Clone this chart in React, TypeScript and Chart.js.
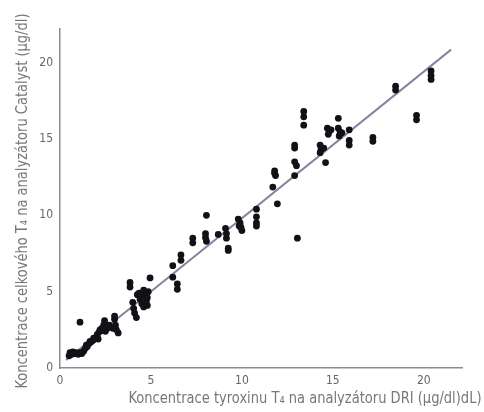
import React, { useEffect, useRef } from "react";
import { Chart, registerables } from "chart.js";

Chart.register(...registerables);

const X_TITLE = "Koncentrace tyroxinu T₄ na analyzátoru DRI (µg/dl)dL)";
const Y_TITLE = "Koncentrace celkového T₄ na analyzátoru Catalyst (µg/dl)";

const X_TICKS = [0, 5, 10, 15, 20];
const Y_TICKS = [0, 5, 10, 15, 20];

// measured samples: DRI (x) vs Catalyst (y)
const DRI_VALUES = [
  0.5, 0.55, 0.65, 0.7, 0.8, 0.9, 1.0, 1.1, 1.2, 1.3, 1.1, 1.4, 1.5, 1.6, 1.7, 1.8, 1.9, 2.0, 2.05, 2.1,
  2.2, 2.3, 2.4, 2.45, 2.5, 2.6, 2.7, 2.9, 3.0, 3.0, 3.05, 3.1, 3.2,
  1.45, 1.65, 1.85, 2.15, 2.35, 2.55,
  3.85, 3.85, 4.0, 4.05, 4.1, 4.2, 4.25, 4.35, 4.4, 4.5, 4.5, 4.6, 4.6, 4.7, 4.75, 4.8, 4.85, 4.8, 4.95,
  6.2, 6.2, 6.45, 6.45, 6.65, 6.65, 7.3, 7.3,
  8.05, 8.0, 8.0, 8.05, 8.7, 9.1, 9.15, 9.15, 9.25, 9.25,
  9.8, 9.9, 9.95, 10.0, 9.85, 10.8, 10.8, 10.8, 10.8,
  11.8, 11.85, 11.8, 11.7, 11.95, 12.9, 12.9, 12.9, 13.0, 12.9, 13.05,
  13.4, 13.4, 13.4, 14.3, 14.35, 14.3, 14.5, 14.6, 14.7, 14.8, 14.75, 14.9, 15.3, 15.3, 15.4, 15.35, 15.5,
  15.9, 15.9, 15.9,
  17.2, 17.2, 18.45, 18.45, 19.6, 19.6, 20.4, 20.4, 20.4,
];
const CATALYST_VALUES = [
  0.8, 1.0, 0.9, 1.05, 0.95, 1.0, 0.9, 1.0, 0.95, 1.1, 3.0, 1.3, 1.4, 1.6, 1.7, 1.8, 1.9, 2.0, 2.2, 1.9,
  2.5, 2.6, 2.8, 3.1, 2.4, 2.6, 2.8, 2.6, 3.2, 3.4, 2.8, 2.5, 2.3,
  1.5, 1.75, 1.95, 2.35, 2.45, 2.75,
  5.6, 5.3, 4.3, 3.9, 3.6, 3.3, 4.8, 4.9, 4.5, 4.7, 4.2, 5.1, 4.0, 4.8, 4.4, 4.6, 5.0, 4.1, 5.9,
  6.7, 5.95, 5.5, 5.15, 7.4, 7.05, 8.5, 8.2,
  10.0, 8.8, 8.55, 8.3, 8.75, 9.15, 8.8, 8.5, 7.85, 7.7,
  9.75, 9.5, 9.2, 9.0, 9.3, 10.4, 9.9, 9.5, 9.3,
  12.9, 12.6, 12.75, 11.85, 10.75, 14.6, 14.4, 13.5, 13.25, 12.6, 8.5,
  16.8, 16.45, 15.9, 14.6, 14.3, 14.1, 14.4, 13.45, 15.7, 15.5, 15.3, 15.6, 16.35, 15.7, 15.45, 15.2, 15.4,
  15.6, 14.9, 14.6,
  15.1, 14.85, 18.45, 18.2, 16.55, 16.25, 19.45, 19.15, 18.9,
];

// regression line end points
const FIT_X = [0.33, 21.5];
const FIT_Y = [0.52, 20.85];

const FONT = '"Liberation Sans Narrow", "DejaVu Sans Condensed", "Liberation Sans", sans-serif';

const titlePlugin = {
  id: "customTitles",
  afterDraw(chart: any) {
    const ctx = chart.ctx as CanvasRenderingContext2D;
    ctx.save();
    ctx.fillStyle = "#777777";
    ctx.font = `16px ${FONT}`;
    {
      const w = ctx.measureText(X_TITLE).width;
      const s = 353 / w;
      ctx.save();
      ctx.translate(128.5, 403);
      ctx.scale(s, 1);
      ctx.textAlign = "left";
      ctx.textBaseline = "alphabetic";
      ctx.fillText(X_TITLE, 0, 0);
      ctx.restore();
    }
    {
      const w = ctx.measureText(Y_TITLE).width;
      const s = 375 / w;
      ctx.save();
      ctx.translate(27, 388.5);
      ctx.rotate(-Math.PI / 2);
      ctx.scale(s, 1);
      ctx.textAlign = "left";
      ctx.textBaseline = "alphabetic";
      ctx.fillText(Y_TITLE, 0, 0);
      ctx.restore();
    }
    ctx.restore();
  },
};

export default function App() {
  const ref = useRef<HTMLCanvasElement | null>(null);
  useEffect(() => {
    document.body.style.margin = "0";
    if (!ref.current) return;
    const points = DRI_VALUES.map((x, i) => ({ x, y: CATALYST_VALUES[i] }));
    const fit = FIT_X.map((x, i) => ({ x, y: FIT_Y[i] }));
    const chart = new Chart(ref.current, {
      type: "scatter",
      data: {
        datasets: [
          {
            type: "line",
            data: fit,
            borderColor: "#8d80a0",
            borderWidth: 2,
            pointRadius: 0,
            fill: false,
            order: 2,
          } as any,
          {
            data: points,
            backgroundColor: "#111116",
            borderWidth: 0,
            pointRadius: 3.4,
            order: 1,
          },
        ],
      },
      options: {
        animation: false,
        responsive: false,
        maintainAspectRatio: false,
        layout: { padding: { left: 0, top: 29, right: 22, bottom: 0 } },
        plugins: { legend: { display: false }, tooltip: { enabled: false } },
        scales: {
          x: {
            type: "linear",
            min: 0,
            max: 22.1,
            grid: { display: false, drawTicks: false },
            border: { display: true, color: "#8c8c8c", width: 1.5 },
            ticks: { color: "#666", font: { family: FONT, size: 12 }, padding: 6, maxRotation: 0 },
            afterBuildTicks: (s: any) => {
              s.ticks = X_TICKS.map((v) => ({ value: v }));
            },
            afterFit: (s: any) => {
              s.height = 44;
            },
          },
          y: {
            type: "linear",
            min: 0,
            max: 22.2,
            grid: { display: false, drawTicks: false },
            border: { display: true, color: "#8c8c8c", width: 1.5 },
            ticks: { color: "#666", font: { family: FONT, size: 12 }, padding: 7 },
            afterBuildTicks: (s: any) => {
              s.ticks = Y_TICKS.map((v) => ({ value: v }));
            },
            afterFit: (s: any) => {
              s.width = 60;
            },
          },
        },
      },
      plugins: [titlePlugin],
    });
    return () => chart.destroy();
  }, []);
  return (
    <div style={{ position: "fixed", left: 0, top: 0, width: 484, height: 412, background: "#fff" }}>
      <canvas ref={ref} width={484} height={412} />
    </div>
  );
}
